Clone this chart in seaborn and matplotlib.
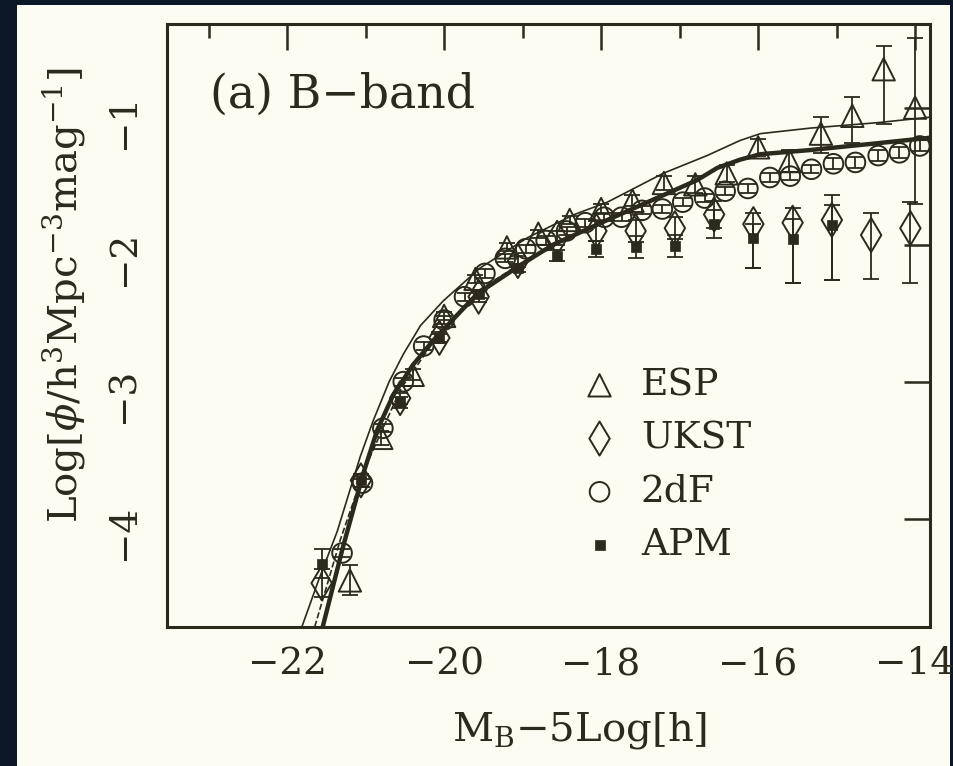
import numpy as np
import seaborn as sns
import matplotlib.pyplot as plt
from matplotlib.patches import Rectangle

# ESP (triangles)
esp_mag = [-21.2, -20.8, -20.4, -20.0, -19.6, -19.2, -18.8, -18.4, -18.0, -17.6,
           -17.2, -16.8, -16.4, -16.0, -15.6, -15.2, -14.8, -14.4, -14.0]
esp_phi = [-4.45, -3.41, -2.95, -2.52, -2.25, -2.02, -1.92, -1.82, -1.74, -1.68,
           -1.55, -1.56, -1.48, -1.29, -1.39, -1.19, -1.06, -0.72, -1.00]
esp_lo = [0.11, 0.05, 0.04, 0.03, 0.03, 0.03, 0.03, 0.03, 0.04, 0.04,
          0.05, 0.06, 0.06, 0.06, 0.08, 0.14, 0.20, 0.40, 0.70]
esp_hi = [0.11, 0.05, 0.04, 0.03, 0.03, 0.03, 0.03, 0.03, 0.04, 0.04,
          0.05, 0.06, 0.06, 0.06, 0.08, 0.12, 0.14, 0.17, 0.51]

# UKST (diamonds)
ukst_mag = [-21.56, -21.06, -20.56, -20.06, -19.56, -19.06, -18.56, -18.06,
            -17.56, -17.06, -16.56, -16.06, -15.56, -15.06, -14.56, -14.06]
ukst_phi = [-4.47, -3.72, -3.12, -2.68, -2.38, -2.12, -1.95, -1.90,
            -1.90, -1.88, -1.78, -1.85, -1.84, -1.82, -1.93, -1.88]
ukst_lo = [0.10, 0.05, 0.04, 0.04, 0.04, 0.04, 0.05, 0.07,
           0.08, 0.08, 0.10, 0.32, 0.44, 0.44, 0.32, 0.40]
ukst_hi = [0.10, 0.05, 0.04, 0.04, 0.04, 0.04, 0.05, 0.07,
           0.08, 0.08, 0.10, 0.08, 0.11, 0.18, 0.16, 0.19]

# 2dF (circles)
tdf_mag = [-21.30, -21.04, -20.78, -20.52, -20.26, -20.00, -19.74, -19.48, -19.22, -18.96,
           -18.70, -18.44, -18.20, -17.96, -17.74, -17.48, -17.22, -16.96, -16.68, -16.42,
           -16.13, -15.85, -15.59, -15.32, -15.04, -14.76, -14.47, -14.20, -13.94]
tdf_phi = [-4.25, -3.74, -3.34, -3.00, -2.74, -2.55, -2.38, -2.21, -2.10, -2.03,
           -1.97, -1.90, -1.84, -1.80, -1.80, -1.75, -1.74, -1.69, -1.66, -1.61,
           -1.59, -1.51, -1.50, -1.45, -1.41, -1.40, -1.35, -1.33, -1.28]
tdf_err = [0.03] * 24 + [0.04] * 5

# APM (filled squares)
apm_mag = [-21.56, -21.06, -20.56, -20.06, -19.56, -19.06, -18.56, -18.06,
           -17.56, -17.06, -16.56, -16.06, -15.56, -15.06]
apm_phi = [-4.33, -3.72, -3.15, -2.68, -2.36, -2.17, -2.08, -2.03,
           -2.02, -2.01, -1.85, -1.95, -1.96, -1.86]
apm_lo = [0.10, 0.05, 0.04, 0.03, 0.03, 0.03, 0.04, 0.06,
          0.08, 0.08, 0.10, 0.22, 0.32, 0.40]
apm_hi = [0.11, 0.05, 0.04, 0.03, 0.03, 0.03, 0.04, 0.06,
          0.08, 0.08, 0.10, 0.10, 0.15, 0.15]

# model curves
thin_mag = [-21.85, -21.60, -21.36, -21.07, -20.90, -20.70, -20.52, -20.30, -20.01,
            -19.54, -18.94, -18.34, -17.92, -17.21, -16.65, -16.23, -15.97, -15.34,
            -14.48, -13.81]
thin_phi = [-4.85, -4.45, -4.09, -3.55, -3.28, -3.00, -2.80, -2.59, -2.41,
            -2.17, -1.95, -1.78, -1.69, -1.48, -1.35, -1.24, -1.19, -1.15,
            -1.11, -1.07]
thick_mag = [-21.56, -21.29, -21.03, -20.85, -20.65, -20.40, -20.14, -19.58, -19.03,
             -18.61, -17.92, -17.29, -16.78, -16.52, -16.23, -15.97, -15.34, -14.48,
             -13.81]
thick_phi = [-4.82, -4.21, -3.67, -3.35, -3.10, -2.88, -2.70, -2.36, -2.15,
             -2.00, -1.82, -1.66, -1.53, -1.44, -1.38, -1.34, -1.31, -1.26,
             -1.22]
dash_mag = [-21.68, -21.32, -21.00, -20.55, -20.05, -19.55, -19.03, -18.61]
dash_phi = [-4.85, -4.15, -3.62, -3.05, -2.64, -2.33, -2.14, -2.00]

sns.set_theme(style="white")
plt.rcParams['font.family'] = ['DejaVu Serif']
plt.rcParams['mathtext.fontset'] = 'dejavuserif'

ink = '#2b2a1c'
paper = '#fcfcf3'
navy = '#0c1827'

fig = plt.figure(figsize=(9.54, 7.66), dpi=100, facecolor=navy)
fig.patches.append(Rectangle((17 / 954, 0), 933 / 954, 1 - 5 / 766,
                             transform=fig.transFigure, facecolor=paper,
                             edgecolor='none', zorder=-10))
ax = fig.add_axes([167 / 954, 1 - 627 / 766, 763 / 954, 603 / 766])
ax.set_facecolor(paper)

sns.lineplot(x=thin_mag, y=thin_phi, sort=False, estimator=None, color=ink, linewidth=1.2, ax=ax)
sns.lineplot(x=dash_mag, y=dash_phi, sort=False, estimator=None, color=ink, linewidth=1.2,
             linestyle='--', ax=ax)
sns.lineplot(x=thick_mag, y=thick_phi, sort=False, estimator=None, color=ink, linewidth=3.2, ax=ax)

eb = dict(fmt='none', ecolor=ink, elinewidth=1.3, capsize=6, capthick=1.3, zorder=3)
ax.errorbar(esp_mag, esp_phi, yerr=[esp_lo, esp_hi], **eb)
ax.errorbar(ukst_mag, ukst_phi, yerr=[ukst_lo, ukst_hi], **eb)
ax.errorbar(tdf_mag, tdf_phi, yerr=tdf_err, **eb)
ax.errorbar(apm_mag, apm_phi, yerr=[apm_lo, apm_hi], **eb)

sns.scatterplot(x=esp_mag, y=esp_phi, marker='^', s=260, facecolor='none', edgecolor=ink,
                linewidth=1.4, label='ESP', ax=ax, zorder=4)
sns.scatterplot(x=ukst_mag, y=ukst_phi, marker='d', s=300, facecolor='none', edgecolor=ink,
                linewidth=1.4, label='UKST', ax=ax, zorder=4)
sns.scatterplot(x=tdf_mag, y=tdf_phi, marker='o', s=200, facecolor='none', edgecolor=ink,
                linewidth=1.4, label='2dF', ax=ax, zorder=4)
sns.scatterplot(x=apm_mag, y=apm_phi, marker='s', s=55, color=ink, edgecolor=ink,
                linewidth=0.5, label='APM', ax=ax, zorder=5)

ax.set_xlim(-23.53, -13.81)
ax.set_ylim(-4.79, -0.39)
ax.set_xticks([-22, -20, -18, -16, -14])
ax.set_xticks([-23, -21, -19, -17, -15], minor=True)
ax.set_yticks([-4, -3, -2, -1])

for s in ax.spines.values():
    s.set_color(ink)
    s.set_linewidth(2.2)
ax.tick_params(which='both', direction='in', top=True, right=True, color=ink,
               labelcolor=ink, labelsize=27, width=1.8)
ax.tick_params(which='major', length=19, pad=14)
ax.tick_params(which='minor', length=10)
ax.tick_params(axis='y', labelrotation=90, pad=18)

ax.set_xlabel(r'$\mathrm{M_B}$$-$5Log[h]', fontsize=29, color=ink)
ax.set_ylabel(r'Log[$\phi$/h$^3$Mpc$^{-3}$mag$^{-1}$]', fontsize=29, color=ink)
ax.xaxis.set_label_coords(0.541, -0.138)
ax.yaxis.set_label_coords(-0.105, 0.551)

ax.text(0.056, 0.862, '(a) B\u2212band', transform=ax.transAxes, fontsize=33,
        color=ink, va='baseline', ha='left')

leg = ax.legend(loc='upper left', bbox_to_anchor=(0.503, 0.462), frameon=False,
                fontsize=27, labelspacing=0.46, handlelength=1.6, handletextpad=0.3,
                borderpad=0)
for t in leg.get_texts():
    t.set_color(ink)

fig.savefig('out.png', dpi=100, facecolor=navy)
